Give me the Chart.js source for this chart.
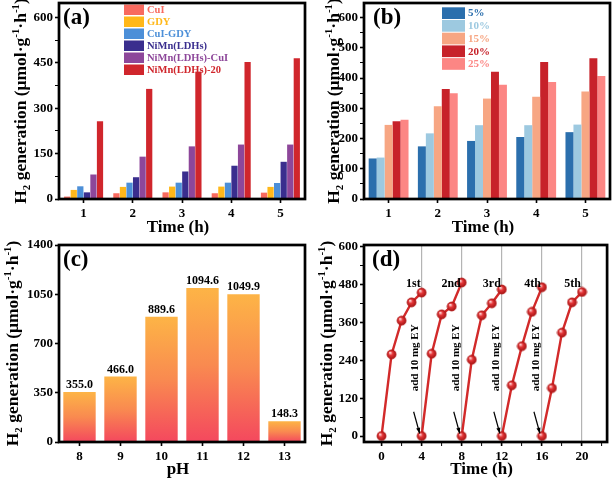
<!DOCTYPE html>
<html>
<head>
<meta charset="utf-8">
<script src="https://cdn.jsdelivr.net/npm/chart.js@4.4.0/dist/chart.umd.min.js"></script>
<style>
  html, body { margin: 0; padding: 0; background: #fff; }
  #wrap { position: relative; width: 614px; height: 482px; }
  #wrap canvas { position: absolute; left: 0; top: 0; }
</style>
</head>
<body>
<div id="wrap">
  <canvas id="chart-a" width="614" height="482"></canvas>
  <canvas id="chart-b" width="614" height="482"></canvas>
  <canvas id="chart-c" width="614" height="482"></canvas>
  <canvas id="chart-d" width="614" height="482"></canvas>
</div>
<script>
// ---- data ----
const hours = ['1', '2', '3', '4', '5'];

// (a) catalysts
const aLabels = ['CuI', 'GDY', 'CuI-GDY', 'NiMn(LDHs)', 'NiMn(LDHs)-CuI', 'NiMn(LDHs)-20'];
const aCuI = [8, 19, 22, 19, 21];
const aGDY = [30, 40, 41, 41, 40];
const aCuIGDY = [42, 54, 54, 54, 53];
const aNiMn = [22, 72, 91, 110, 123];
const aNiMnCuI = [81, 140, 174, 180, 180];
const aNiMn20 = [257, 364, 421, 453, 465];

// (b) loading
const bLabels = ['5%', '10%', '15%', '20%', '25%'];
const b5 = [134, 174, 192, 205, 221];
const b10 = [137, 217, 244, 244, 246];
const b15 = [245, 307, 332, 338, 355];
const b20 = [257, 364, 421, 453, 465];
const b25 = [262, 350, 378, 387, 407];

// (c) pH
const pH = ['8', '9', '10', '11', '12', '13'];
const pHRate = [355.0, 466.0, 889.6, 1094.6, 1049.9, 148.3];

// (d) cycling
const dCycles = ['1st', '2nd', '3rd', '4th', '5th'];
const dTimes = [
    [0, 1, 2, 3, 4],
    [4, 5, 6, 7, 8],
    [8, 9, 10, 11, 12],
    [12, 13, 14, 15, 16],
    [16, 17, 18, 19, 20],
];
const dValues = [
    [0, 259, 366, 424, 455],
    [0, 261, 386, 411, 487],
    [0, 242, 383, 421, 465],
    [0, 161, 285, 394, 472],
    [0, 152, 328, 424, 457],
];
const dAddEY = [4, 8, 12, 16];

const aTicks = [0, 150, 300, 450, 600];
const bTicks = [0, 100, 200, 300, 400, 500, 600];
const cTicks = [0, 350, 700, 1050, 1400];
const dYTicks = [0, 120, 240, 360, 480, 600];
const dXTicks = [0, 4, 8, 12, 16, 20];

// ---- styling ----
const FONT = "'Liberation Serif', 'Times New Roman', serif";
const W = 614, H = 482;
const YW = 45, XH = 30;

const aColors = ['#F86A5F', '#FFB81A', '#4C8FD8', '#3A2E8E', '#8D479A', '#D0262C'];
const bColors = ['#2B6FAD', '#9DC9E0', '#F7A683', '#C7222A', '#FC8684'];

const yTitleParts = [
    { t: 'H' }, { t: '2', k: 'sub' }, { t: ' generation (μmol·g' }, { t: '-1', k: 'sup' },
    { t: '·h' }, { t: '-1', k: 'sup' }, { t: ')' },
];

function drawRich(ctx, parts, x, y, size, rotate) {
    ctx.save();
    ctx.translate(x, y);
    if (rotate) ctx.rotate(-Math.PI / 2);
    ctx.fillStyle = '#000';
    ctx.textAlign = 'left';
    ctx.textBaseline = 'alphabetic';
    let total = 0;
    const segs = parts.map(p => {
        const fs = p.k ? size * 0.62 : size;
        ctx.font = `bold ${fs}px ${FONT}`;
        const w = ctx.measureText(p.t).width;
        total += w;
        const dy = p.k === 'sub' ? size * 0.22 : p.k === 'sup' ? -size * 0.4 : 0;
        return { t: p.t, fs, w, dy };
    });
    let cx = -total / 2;
    const base = size * 0.33;
    for (const s of segs) {
        ctx.font = `bold ${s.fs}px ${FONT}`;
        ctx.fillText(s.t, cx, base + s.dy);
        cx += s.w;
    }
    ctx.restore();
}

// ticks: major list gets labels, minor step only marks
function tickList(min, max, step) {
    const out = [];
    for (let v = min; v <= max + 1e-9; v += step) out.push({ value: v });
    return out;
}

function yAxis(min, max, majors, minorStep) {
    return {
        type: 'linear',
        min, max,
        border: { display: false },
        grid: {
            drawOnChartArea: false, tickLength: 4, tickColor: '#000',
            tickWidth: c => (majors.includes(c.tick.value) ? 1.6 : 1),
        },
        afterBuildTicks: s => { s.ticks = tickList(majors[0], majors[majors.length - 1], minorStep); },
        afterFit: s => { s.width = YW; s.paddingTop = 0; s.paddingBottom = 0; },
        ticks: {
            autoSkip: false, color: '#000', padding: 2,
            font: { family: FONT, size: 13, weight: 'bold' },
            callback: v => (majors.includes(v) ? v : ''),
        },
    };
}

function catAxis() {
    return {
        type: 'category',
        offset: true,
        border: { display: false },
        grid: { offset: false, drawOnChartArea: false, tickLength: 4, tickColor: '#000', tickWidth: 1.6 },
        afterFit: s => { s.height = XH; s.paddingLeft = 0; s.paddingRight = 0; },
        ticks: { color: '#000', padding: 3, font: { family: FONT, size: 13, weight: 'bold' } },
    };
}

function baseOptions(area, x, y) {
    return {
        responsive: false,
        animation: false,
        events: [],
        layout: { padding: { left: area.l - YW, top: area.t, right: W - area.r, bottom: H - area.b - XH } },
        plugins: { legend: { display: false }, tooltip: { enabled: false } },
        scales: { x, y },
    };
}

// frame, panel letter, axis titles
function framePlugin(p) {
    return {
        id: 'frame',
        afterDraw(chart) {
            const { ctx, chartArea: a } = chart;
            ctx.save();
            ctx.fillStyle = '#000';
            ctx.textBaseline = 'middle';
            ctx.textAlign = 'left';
            ctx.font = `bold 23px ${FONT}`;
            ctx.fillText(p.letter, a.left + p.letterDx, a.top + 15);
            ctx.textAlign = 'center';
            ctx.font = `bold 17px ${FONT}`;
            ctx.fillText(p.xTitle, (a.left + a.right) / 2 - 4, p.xTitleY);
            drawRich(ctx, yTitleParts, p.yTitleX, (a.top + a.bottom) / 2, 17.5, true);
            ctx.lineWidth = 2.7;
            ctx.strokeStyle = '#000';
            ctx.strokeRect(a.left, a.top, a.right - a.left, a.bottom - a.top);
            ctx.restore();
        },
    };
}

function legendPlugin(L, colors) {
    return {
        id: 'boxLegend',
        afterDatasetsDraw(chart) {
            const ctx = chart.ctx;
            ctx.save();
            ctx.font = `bold ${L.size}px ${FONT}`;
            ctx.textBaseline = 'middle';
            ctx.textAlign = 'left';
            chart.data.datasets.forEach((ds, i) => {
                const y = L.y + i * L.pitch;
                ctx.fillStyle = colors[i];
                ctx.fillRect(L.x, y, L.w, L.h);
                ctx.fillText(ds.label, L.x + L.w + L.gap, y + L.h / 2 + 0.5);
            });
            ctx.restore();
        },
    };
}

// ---- (a) ----
const aData = [aCuI, aGDY, aCuIGDY, aNiMn, aNiMnCuI, aNiMn20];
new Chart(document.getElementById('chart-a'), {
    type: 'bar',
    data: {
        labels: hours,
        datasets: aData.map((d, i) => ({
            label: aLabels[i], data: d, backgroundColor: aColors[i],
            categoryPercentage: 0.8, barPercentage: 0.95,
        })),
    },
    options: baseOptions({ l: 59, t: 3, r: 305, b: 199 }, catAxis(), yAxis(0, 648, aTicks, 75)),
    plugins: [
        legendPlugin({ x: 124, y: 4.5, pitch: 12, w: 20, h: 10.5, gap: 3, size: 10.5 }, aColors),
        framePlugin({ letter: '(a)', letterDx: 4, xTitle: 'Time (h)', xTitleY: 228, yTitleX: 20 }),
    ],
});

// ---- (b) ----
const bData = [b5, b10, b15, b20, b25];
new Chart(document.getElementById('chart-b'), {
    type: 'bar',
    data: {
        labels: hours,
        datasets: bData.map((d, i) => ({
            label: bLabels[i], data: d, backgroundColor: bColors[i],
            categoryPercentage: 0.81, barPercentage: 1.0,
        })),
    },
    options: baseOptions({ l: 364, t: 3, r: 610, b: 199 }, catAxis(), yAxis(0, 648, bTicks, 50)),
    plugins: [
        legendPlugin({ x: 442, y: 7.3, pitch: 12.7, w: 23, h: 11.7, gap: 3, size: 11 }, bColors),
        framePlugin({ letter: '(b)', letterDx: 9, xTitle: 'Time (h)', xTitleY: 228, yTitleX: 333 }),
    ],
});

// ---- (c) ----
new Chart(document.getElementById('chart-c'), {
    type: 'bar',
    data: {
        labels: pH,
        datasets: [{
            label: 'pH', data: pHRate,
            categoryPercentage: 0.79, barPercentage: 1.0,
            backgroundColor: c => {
                const chart = c.chart;
                if (!chart.chartArea || c.type !== 'data') return '#F98A50';
                const ys = chart.scales.y;
                const top = ys.getPixelForValue(c.parsed.y);
                const bot = ys.getPixelForValue(0);
                const g = chart.ctx.createLinearGradient(0, top, 0, bot);
                g.addColorStop(0, '#FDB446');
                g.addColorStop(0.5, '#F98A50');
                g.addColorStop(1, '#F4485E');
                return g;
            },
        }],
    },
    options: baseOptions({ l: 59, t: 245, r: 305, b: 442 }, catAxis(), yAxis(0, 1400, cTicks, 350)),
    plugins: [
        {
            id: 'barValues',
            afterDatasetsDraw(chart) {
                const ctx = chart.ctx;
                const meta = chart.getDatasetMeta(0);
                ctx.save();
                ctx.font = `bold 12px ${FONT}`;
                ctx.fillStyle = '#000';
                ctx.textAlign = 'center';
                ctx.textBaseline = 'bottom';
                meta.data.forEach((el, i) => {
                    ctx.fillText(pHRate[i].toFixed(1), el.x, el.y - 1);
                });
                ctx.restore();
            },
        },
        framePlugin({ letter: '(c)', letterDx: 4, xTitle: 'pH', xTitleY: 470, yTitleX: 12 }),
    ],
});

// ---- (d) ----
function sphere(r) {
    const c = document.createElement('canvas');
    c.width = c.height = 2 * r + 2;
    const g = c.getContext('2d');
    const m = r + 1;
    const grad = g.createRadialGradient(m - r * 0.35, m - r * 0.4, r * 0.1, m, m, r);
    grad.addColorStop(0, '#ffd6d6');
    grad.addColorStop(0.4, '#e53638');
    grad.addColorStop(1, '#a31414');
    g.fillStyle = grad;
    g.beginPath();
    g.arc(m, m, r, 0, Math.PI * 2);
    g.fill();
    g.strokeStyle = '#b51818';
    g.lineWidth = 0.8;
    g.stroke();
    return c;
}
const ball = sphere(4.5);

const dYAxis = yAxis(-19, 606, dYTicks, 60);
const dXAxis = {
    type: 'linear',
    min: -1.75, max: 22.5,
    border: { display: false },
    grid: {
        drawOnChartArea: true,
        color: c => (c.tick && c.tick.value > 0 && c.tick.value % 4 === 0 ? '#b4b4b4' : 'rgba(0,0,0,0)'),
        lineWidth: 1.2,
        tickLength: 4, tickColor: '#000',
        tickWidth: c => (dXTicks.includes(c.tick.value) ? 1.6 : 1),
    },
    afterBuildTicks: s => { s.ticks = tickList(0, 22, 2); },
    afterFit: s => { s.height = XH; s.paddingLeft = 0; s.paddingRight = 0; },
    ticks: {
        autoSkip: false, color: '#000', padding: 3, maxRotation: 0,
        font: { family: FONT, size: 13, weight: 'bold' },
        callback: v => (dXTicks.includes(v) ? v : ''),
    },
};

new Chart(document.getElementById('chart-d'), {
    type: 'line',
    data: {
        datasets: dTimes.map((ts, i) => ({
            label: dCycles[i],
            data: ts.map((t, j) => ({ x: t, y: dValues[i][j] })),
            borderColor: '#D22A2A',
            borderWidth: 2.4,
            pointStyle: ball,
            pointRadius: 4.5,
            tension: 0,
            clip: false,
        })),
    },
    options: baseOptions({ l: 364, t: 245, r: 610, b: 442 }, dXAxis, dYAxis),
    plugins: [
        {
            id: 'cycleNotes',
            afterDatasetsDraw(chart) {
                const { ctx, scales: { x, y } } = chart;
                ctx.save();
                ctx.fillStyle = '#000';
                ctx.strokeStyle = '#000';
                // cycle names, right aligned against the end of each run
                ctx.font = `bold 12px ${FONT}`;
                ctx.textAlign = 'right';
                ctx.textBaseline = 'middle';
                dTimes.forEach((ts, i) => {
                    ctx.fillText(dCycles[i], x.getPixelForValue(ts[ts.length - 1]) - 1, y.getPixelForValue(483));
                });
                // "add 10 mg EY" notes with arrows
                dAddEY.forEach(t => {
                    const px = x.getPixelForValue(t);
                    ctx.save();
                    ctx.translate(px - 6, y.getPixelForValue(248));
                    ctx.rotate(-Math.PI / 2);
                    ctx.font = `bold 11px ${FONT}`;
                    ctx.textAlign = 'center';
                    ctx.textBaseline = 'middle';
                    ctx.fillText('add 10 mg EY', 0, 0);
                    ctx.restore();

                    const x0 = px - 8, y0 = y.getPixelForValue(77);
                    const x1 = px - 2, y1 = y.getPixelForValue(8);
                    ctx.lineWidth = 1.2;
                    ctx.beginPath();
                    ctx.moveTo(x0, y0);
                    ctx.lineTo(x1, y1);
                    ctx.stroke();
                    const ang = Math.atan2(y1 - y0, x1 - x0);
                    ctx.beginPath();
                    ctx.moveTo(x1, y1);
                    ctx.lineTo(x1 - 6 * Math.cos(ang - 0.35), y1 - 6 * Math.sin(ang - 0.35));
                    ctx.lineTo(x1 - 6 * Math.cos(ang + 0.35), y1 - 6 * Math.sin(ang + 0.35));
                    ctx.closePath();
                    ctx.fill();
                });
                ctx.restore();
            },
        },
        framePlugin({ letter: '(d)', letterDx: 8, xTitle: 'Time (h)', xTitleY: 470, yTitleX: 326 }),
    ],
});
</script>
</body>
</html>
